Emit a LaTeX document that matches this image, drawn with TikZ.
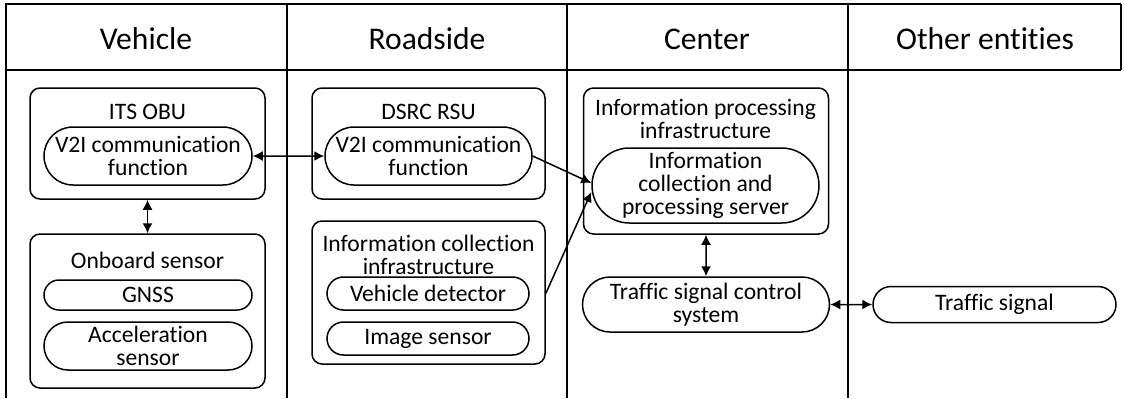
\documentclass[tikz,border=0pt]{standalone}
\usepackage{fontspec}
\setmainfont{Carlito}[Ligatures=NoCommon]
\usetikzlibrary{arrows.meta,shapes.misc}

\begin{document}
\begin{tikzpicture}[x=0.5pt,y=-0.5pt,
    >={Latex[length=5pt,width=5pt]},
    line width=0.75pt,
    frame/.style={line width=0.9pt},
    head/.style={font=\fontsize{15.8}{18}\selectfont, anchor=base, inner sep=0pt},
    title/.style={font=\fontsize{11.8}{11.3}\selectfont, align=center, inner sep=0pt},
    box/.style={shape=rectangle, draw=black, rounded corners=5pt, inner sep=0pt},
    pill/.style={shape=rounded rectangle, draw=black, inner sep=0pt, align=center,
      font=\fontsize{11.8}{11.3}\selectfont}]
  \useasboundingbox (0,0) rectangle (1124,398);

  % table
  \draw[frame] (5,4) -- (1121,4);
  \draw[frame,line width=1.2pt] (5,70) -- (1121,70);
  \draw[frame] (6,4) -- (6,398);
  \draw[frame] (287,4) -- (287,398);
  \draw[frame] (567,4) -- (567,398);
  \draw[frame] (848,4) -- (848,398);
  \draw[frame] (1121,4) -- (1121,70);

  \node[head] (T1) at (146,49) {Vehicle};
  \node[head] (T2) at (427,49) {Roadside};
  \node[head] (T3) at (707,49) {Center};
  \node[head] (T4) at (985,49) {Other entities};

  % vehicle
  \node[box,minimum width=117.5pt,minimum height=55.5pt] (A) at (147.5,143.5) {};
  \node[title] (A1) at (147.5,112) {ITS OBU};
  \node[pill,minimum width=104pt,minimum height=29pt] (B) at (148,156) {V2I communication\\function};

  \node[box,minimum width=117.5pt,minimum height=77pt] (C) at (147.5,311) {};
  \node[title] (C1) at (147.5,260) {Onboard sensor};
  \node[pill,minimum width=104pt,minimum height=15pt] (D) at (148,295) {GNSS};
  \node[pill,minimum width=104pt,minimum height=24pt] (D2) at (148,346) {Acceleration\\sensor};

  % roadside
  \node[box,minimum width=116.5pt,minimum height=55.5pt] (E0) at (428.5,143.5) {};
  \node[title] (E1) at (428.5,112) {DSRC RSU};
  \node[pill,minimum width=103.5pt,minimum height=29pt] (E) at (428.5,156) {V2I communication\\function};

  \node[box,minimum width=116.5pt,minimum height=71.5pt] (G) at (428.5,292.5) {};
  \node[title] (G1) at (428.5,255) {Information collection\\infrastructure};
  \node[pill,minimum width=101pt,minimum height=16.5pt] (H) at (428,293.5) {Vehicle detector};
  \node[pill,minimum width=101pt,minimum height=16.5pt] (I) at (428,338.5) {Image sensor};

  % center
  \node[box,minimum width=122.5pt,minimum height=73pt] (J) at (706,161) {};
  \node[title] (J1) at (705.5,119) {Information processing\\infrastructure};
  \node[pill,minimum width=113.5pt,minimum height=37.5pt] (K) at (705.5,185.5) {Information\\collection and\\processing server};
  \node[pill,minimum width=123.5pt,minimum height=27.5pt] (L) at (706,304.5) {Traffic signal control\\system};

  % other entities
  \node[pill,minimum width=121.5pt,minimum height=18pt] (M) at (994.5,304.5) {Traffic signal};

  \draw[<->] (B) -- (E);
  \draw[<->] (A) -- (C);
  \draw[->] (E.east) -- ([yshift=1.25pt]K.west);
  \draw[->] (H.east -| G.east) -- ([yshift=-3.25pt]K.west);
  \draw[<->] (J) -- (L);
  \draw[<->] (L) -- (M);
\end{tikzpicture}
\end{document}
